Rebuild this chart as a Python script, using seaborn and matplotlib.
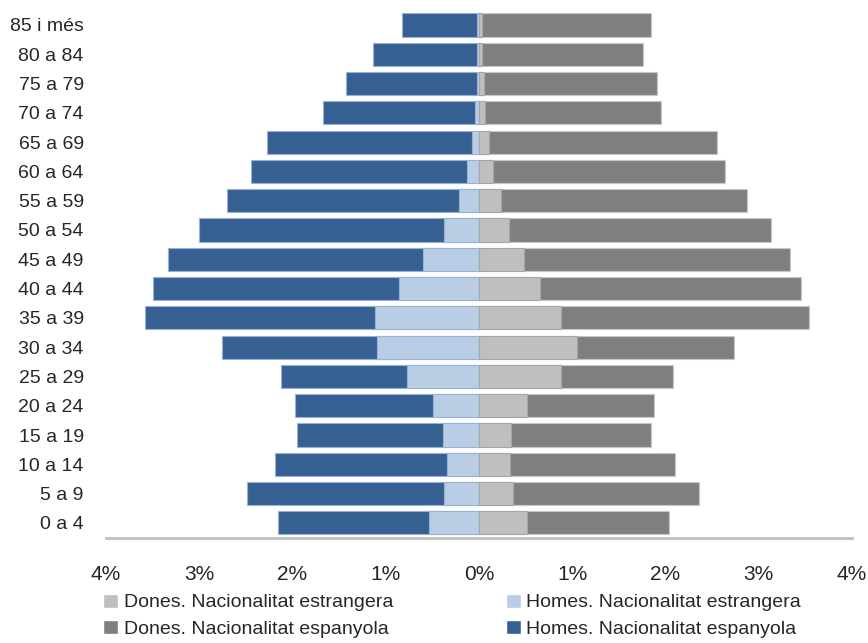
import matplotlib
matplotlib.use('Agg')
import matplotlib.pyplot as plt
from matplotlib.patches import Patch
import pandas as pd
import seaborn as sns

# age groups, top of the chart first
edats = ['85 i més', '80 a 84', '75 a 79', '70 a 74', '65 a 69', '60 a 64',
         '55 a 59', '50 a 54', '45 a 49', '40 a 44', '35 a 39', '30 a 34',
         '25 a 29', '20 a 24', '15 a 19', '10 a 14', '5 a 9', '0 a 4']

# % of total population
homes_estrangera = [0.02, 0.02, 0.02, 0.04, 0.08, 0.13, 0.21, 0.37, 0.60, 0.86,
                    1.11, 1.09, 0.77, 0.49, 0.39, 0.34, 0.37, 0.54]
homes_espanyola = [0.81, 1.12, 1.41, 1.63, 2.19, 2.31, 2.49, 2.63, 2.74, 2.64,
                   2.47, 1.67, 1.35, 1.48, 1.56, 1.85, 2.12, 1.62]
dones_estrangera = [0.03, 0.03, 0.05, 0.06, 0.11, 0.15, 0.24, 0.32, 0.48, 0.65,
                    0.88, 1.05, 0.88, 0.51, 0.34, 0.33, 0.37, 0.51]
dones_espanyola = [1.81, 1.73, 1.86, 1.89, 2.44, 2.49, 2.63, 2.81, 2.86, 2.80,
                   2.66, 1.69, 1.20, 1.37, 1.50, 1.77, 1.99, 1.53]

df = pd.DataFrame({'edat': edats,
                   'h_est': homes_estrangera, 'h_esp': homes_espanyola,
                   'd_est': dones_estrangera, 'd_esp': dones_espanyola})
df['h_total'] = -(df['h_est'] + df['h_esp'])
df['h_est_neg'] = -df['h_est']
df['d_total'] = df['d_est'] + df['d_esp']

c_h_esp, c_h_est = '#376092', '#B9CDE5'
c_d_esp, c_d_est = '#7F7F7F', '#BFBFBF'

sns.set_style('white')
plt.rcParams['font.family'] = ['Liberation Sans', 'DejaVu Sans']

fig = plt.figure(figsize=(8.68, 6.43), dpi=100)
ax = fig.add_axes([0.1221, 0.164, 0.8594, 0.820])

bw = 0.79
sns.barplot(data=df, x='h_total', y='edat', order=edats, color=c_h_esp,
            width=bw, edgecolor='#95B3D7', linewidth=0.8, saturation=1, ax=ax)
sns.barplot(data=df, x='h_est_neg', y='edat', order=edats, color=c_h_est,
            width=bw, edgecolor='#95B3D7', linewidth=0.8, saturation=1, ax=ax)
sns.barplot(data=df, x='d_total', y='edat', order=edats, color=c_d_esp,
            width=bw, edgecolor='#C8C8C8', linewidth=0.8, saturation=1, ax=ax)
sns.barplot(data=df, x='d_est', y='edat', order=edats, color=c_d_est,
            width=bw, edgecolor='#A6A6A6', linewidth=0.8, saturation=1, ax=ax)

ax.set_xlim(-4, 4)
ax.set_ylim(len(edats) - 0.5, -0.5)
ticks = [-4, -3, -2, -1, 0, 1, 2, 3, 4]
ax.set_xticks(ticks)
ax.set_xticklabels([f'{abs(t)}%' for t in ticks])
ax.set_xlabel('')
ax.set_ylabel('')
ax.tick_params(axis='x', length=0, pad=20, labelsize=15)
ax.tick_params(axis='y', length=0, pad=16, labelsize=14)

for s in ['top', 'left', 'right']:
    ax.spines[s].set_visible(False)
ax.spines['bottom'].set_color('#BFBFBF')
ax.spines['bottom'].set_linewidth(2)

handles = [Patch(facecolor=c_d_est, label='Dones. Nacionalitat estrangera'),
           Patch(facecolor=c_d_esp, label='Dones. Nacionalitat espanyola'),
           Patch(facecolor=c_h_est, label='Homes. Nacionalitat estrangera'),
           Patch(facecolor=c_h_esp, label='Homes. Nacionalitat espanyola')]
fig.legend(handles=handles, ncol=2, loc='upper left', bbox_to_anchor=(0.108, 0.092),
           frameon=False, fontsize=14, handlelength=0.75, handleheight=0.75,
           handletextpad=0.3, columnspacing=5.8, labelspacing=0.45, borderpad=0)

fig.savefig('out.png', dpi=100)
